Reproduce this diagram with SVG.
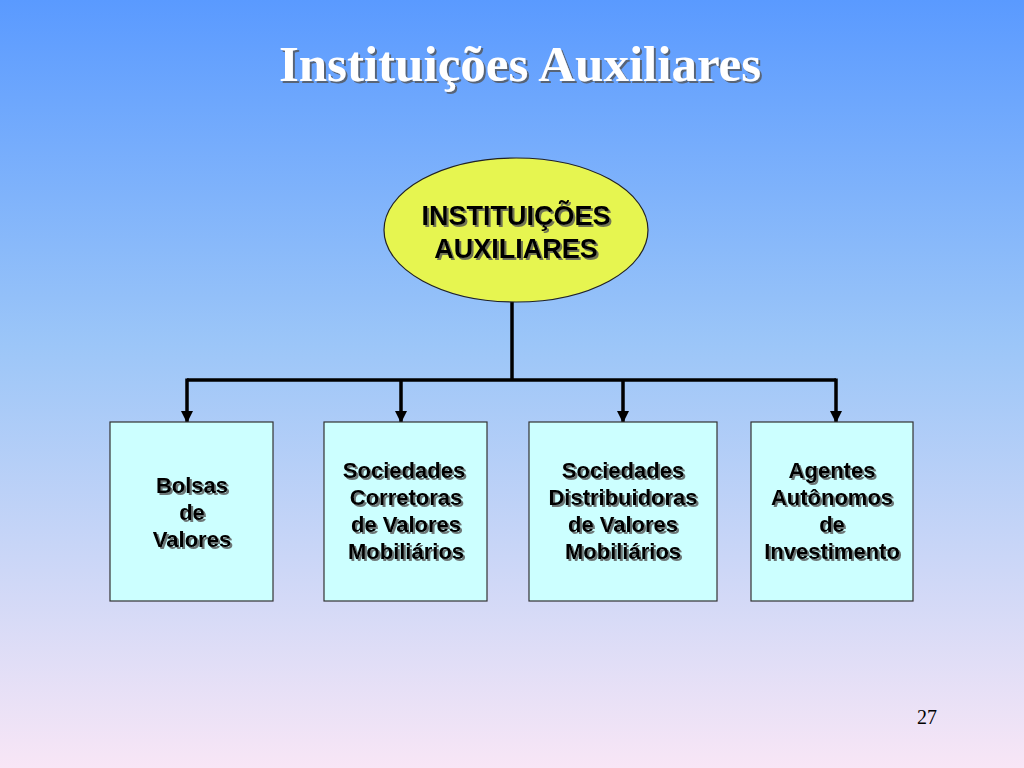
<svg xmlns="http://www.w3.org/2000/svg" width="1024" height="768" viewBox="0 0 1024 768">
<defs>
<linearGradient id="bg" x1="0" y1="0" x2="0" y2="1">
<stop offset="0" stop-color="#5A9AFF"/>
<stop offset="0.45" stop-color="#9CC6F8"/>
<stop offset="1" stop-color="#F8E6F6"/>
</linearGradient>
<marker id="arr" markerWidth="12" markerHeight="12" refX="11" refY="6" orient="auto" markerUnits="userSpaceOnUse" viewBox="0 0 12 12">
<path d="M0,0 L12,6 L0,12 z" fill="#000"/>
</marker>
<filter id="sh" x="-5%" y="-5%" width="110%" height="120%">
<feDropShadow dx="2" dy="2" stdDeviation="0.6" flood-color="#555" flood-opacity="0.8"/>
</filter>
</defs>
<style>
.box{fill:#CCFFFF;stroke:#333;stroke-width:1.2}
.lbl{font-family:"Liberation Sans",Arial,sans-serif;font-weight:bold;font-size:22px;fill:#000;text-anchor:middle}
.big{font-size:27px}
.wire{fill:none;stroke:#000;stroke-width:3.5}
</style>
<rect width="1024" height="768" fill="url(#bg)"/>
<text x="520" y="81" font-family="'Liberation Serif','Times New Roman',serif" font-weight="bold" font-size="51" fill="#fff" text-anchor="middle" filter="url(#sh)">Instituições Auxiliares</text>
<g id="connectors">
<path class="wire" d="M512,302 V380"/>
<path class="wire" d="M187,380 H836"/>
<path class="wire" d="M187,378.5 V422" marker-end="url(#arr)"/>
<path class="wire" d="M401,380 V422" marker-end="url(#arr)"/>
<path class="wire" d="M623,380 V422" marker-end="url(#arr)"/>
<path class="wire" d="M836,378.5 V422" marker-end="url(#arr)"/>
</g>
<g id="root">
<ellipse cx="516" cy="230" rx="132" ry="72" fill="#E6F550" stroke="#222" stroke-width="1.2"/>
<g filter="url(#sh)">
<text x="516" y="225" class="lbl big">INSTITUIÇÕES</text>
<text x="516" y="258" class="lbl big">AUXILIARES</text>
</g>
</g>
<g id="n1">
<rect class="box" x="110" y="422" width="163" height="179"/>
<g filter="url(#sh)">
<text class="lbl" x="192" y="493">Bolsas</text>
<text class="lbl" x="192" y="520">de</text>
<text class="lbl" x="192" y="547">Valores</text>
</g>
</g>
<g id="n2">
<rect class="box" x="324" y="422" width="163" height="179"/>
<g filter="url(#sh)">
<text class="lbl" x="404" y="478">Sociedades</text>
<text class="lbl" x="406" y="505">Corretoras</text>
<text class="lbl" x="406" y="532">de Valores</text>
<text class="lbl" x="406" y="559">Mobiliários</text>
</g>
</g>
<g id="n3">
<rect class="box" x="529" y="422" width="188" height="179"/>
<g filter="url(#sh)">
<text class="lbl" x="623" y="478">Sociedades</text>
<text class="lbl" x="623" y="505">Distribuidoras</text>
<text class="lbl" x="623" y="532">de Valores</text>
<text class="lbl" x="623" y="559">Mobiliários</text>
</g>
</g>
<g id="n4">
<rect class="box" x="751" y="422" width="162" height="179"/>
<g filter="url(#sh)">
<text class="lbl" x="832" y="478">Agentes</text>
<text class="lbl" x="832" y="505">Autônomos</text>
<text class="lbl" x="832" y="532">de</text>
<text class="lbl" x="832" y="559">Investimento</text>
</g>
</g>
<text x="927" y="724" font-family="'Liberation Serif','Times New Roman',serif" font-size="20" fill="#000" text-anchor="middle">27</text>
</svg>
